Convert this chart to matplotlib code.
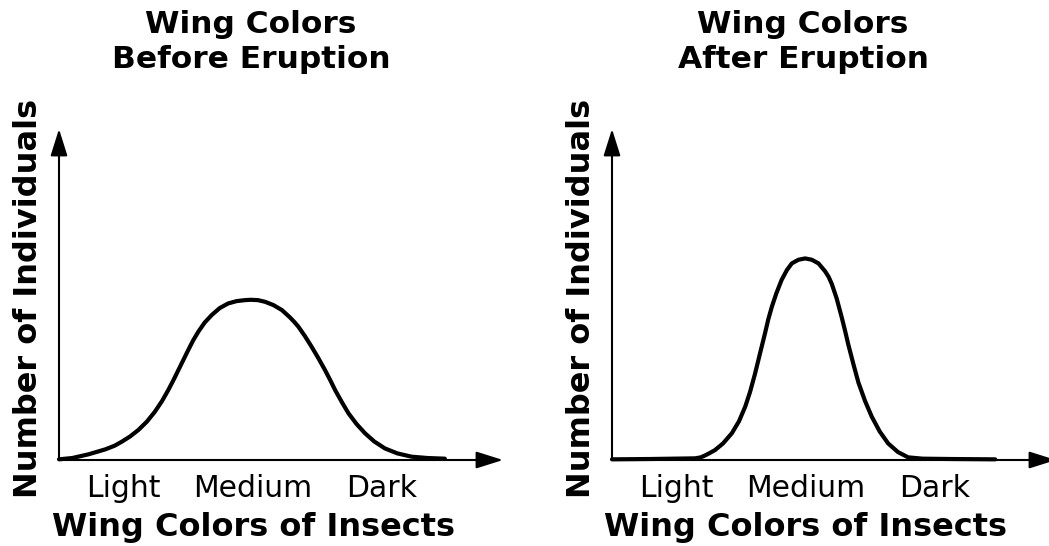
import matplotlib
matplotlib.use("Agg")
import matplotlib.pyplot as plt
from matplotlib.patches import FancyArrowPatch
from matplotlib.transforms import blended_transform_factory

plt.rcParams['font.family'] = ['DejaVu Sans']

# ---- data ----
categories = ["Light", "Medium", "Dark"]
category_pos = [1.46, 4.37, 7.26]

before_x = [0.00, 0.30, 0.66, 1.04, 1.25, 1.41, 1.60, 1.79, 1.98, 2.16, 2.32, 2.46,
            2.58, 2.69, 2.80, 2.91, 3.02, 3.14, 3.28, 3.44, 3.62, 3.81, 4.00, 4.19,
            4.32, 4.48, 4.64, 4.83, 5.02, 5.20, 5.30, 5.39, 5.54, 5.69, 5.84, 5.99,
            6.11, 6.22, 6.37, 6.52, 6.70, 6.89, 7.10, 7.34, 7.62, 7.94, 8.30, 8.69]
before_y = [0.02, 0.06, 0.17, 0.32, 0.43, 0.55, 0.71, 0.91, 1.16, 1.46, 1.78, 2.11,
            2.42, 2.72, 3.02, 3.32, 3.61, 3.88, 4.15, 4.38, 4.59, 4.73, 4.80, 4.83,
            4.84, 4.83, 4.78, 4.68, 4.53, 4.31, 4.17, 4.03, 3.74, 3.42, 3.08, 2.72,
            2.41, 2.11, 1.75, 1.41, 1.09, 0.81, 0.56, 0.35, 0.20, 0.10, 0.06, 0.04]

after_x = [0.00, 0.86, 1.87, 2.00, 2.10, 2.20, 2.32, 2.50, 2.70, 2.86, 3.00, 3.11,
           3.22, 3.33, 3.45, 3.52, 3.60, 3.70, 3.82, 3.94, 4.05, 4.20, 4.35, 4.50,
           4.65, 4.80, 4.88, 4.95, 5.06, 5.17, 5.25, 5.32, 5.44, 5.55, 5.70, 5.85,
           6.03, 6.22, 6.44, 6.67, 7.00, 7.61, 8.63]
after_y = [0.02, 0.03, 0.05, 0.08, 0.14, 0.21, 0.30, 0.50, 0.81, 1.17, 1.61, 2.06,
           2.60, 3.20, 3.85, 4.25, 4.63, 5.03, 5.44, 5.74, 5.94, 6.05, 6.09, 6.05,
           5.94, 5.70, 5.53, 5.32, 4.88, 4.33, 3.90, 3.50, 2.88, 2.34, 1.78, 1.31,
           0.86, 0.50, 0.24, 0.08, 0.04, 0.03, 0.02]

titles = [("Wing Colors", "Before Eruption"), ("Wing Colors", "After Eruption")]
xlabel = "Wing Colors of Insects"
ylabel = "Number of Individuals"

W, H = 1049, 546
fig = plt.figure(figsize=(W / 100, H / 100), dpi=100)
fig.patch.set_facecolor("white")


def fx(px):
    return px / W


def fy(py):
    return 1 - py / H


panels = [
    dict(left=59, xs=before_x, ys=before_y, tcx=251, xlcx=253, ylx=37, title=titles[0]),
    dict(left=612, xs=after_x, ys=after_y, tcx=803, xlcx=806, ylx=590, title=titles[1]),
]

ax_bottom, ax_top, ax_w = 460, 129, 444

for p in panels:
    ax = fig.add_axes([fx(p["left"]), fy(ax_bottom), ax_w / W, (ax_bottom - ax_top) / H])
    ax.set_xlim(0, 10)
    ax.set_ylim(0, 10)
    ax.set_axis_off()

    ax.plot(p["xs"], p["ys"], color="black", lw=3.0, solid_joinstyle="round",
            solid_capstyle="round", clip_on=False, zorder=3)

    for a, b in [((0, 0), (1, 0)), ((0, 0), (0, 1))]:
        arr = FancyArrowPatch(a, b, transform=ax.transAxes,
                              arrowstyle="-|>,head_length=16.5,head_width=5.2",
                              mutation_scale=1, lw=1.5, color="black",
                              shrinkA=0, shrinkB=0, clip_on=False, zorder=2)
        ax.add_patch(arr)

    trans = blended_transform_factory(ax.transData, ax.transAxes)
    yb = (ax_bottom - 497) / (ax_bottom - ax_top)
    for c, xpos in zip(categories, category_pos):
        ax.text(xpos, yb, c, transform=trans, ha="center", va="baseline",
                fontsize=21.5, color="black")

    t1, t2 = p["title"]
    fig.text(fx(p["tcx"]), fy(33), t1, ha="center", va="baseline",
             fontsize=22.5, fontweight="bold")
    fig.text(fx(p["tcx"]), fy(68), t2, ha="center", va="baseline",
             fontsize=22.5, fontweight="bold")
    fig.text(fx(p["xlcx"]), fy(536), xlabel, ha="center", va="baseline",
             fontsize=23, fontweight="bold")
    fig.text(fx(p["ylx"]), fy(298), ylabel, ha="center", va="baseline",
             rotation=90, rotation_mode="anchor", fontsize=23, fontweight="bold")

fig.savefig("out.png", dpi=100, facecolor="white")
